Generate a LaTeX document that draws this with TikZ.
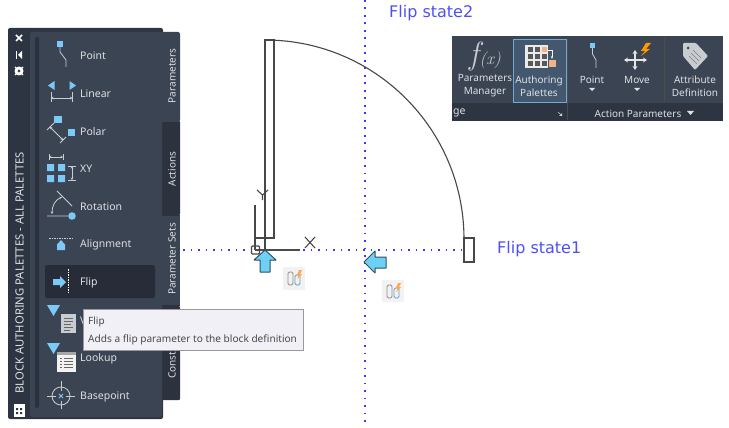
\documentclass[tikz,border=0pt]{standalone}
\usepackage{fontspec}
\setmainfont{Noto Sans}
\newfontfamily\flipfont{DejaVu Sans}
\newfontfamily\mathish{Latin Modern Roman}
\usetikzlibrary{arrows.meta}
\definecolor{panel}{HTML}{3B4453}
\definecolor{strip}{HTML}{2E3542}
\definecolor{tabdark}{HTML}{2C333F}
\definecolor{hilite}{HTML}{272C38}
\definecolor{ptext}{HTML}{DDE0E4}
\definecolor{iconblue}{HTML}{7CC8F7}
\definecolor{icongray}{HTML}{C9CCD0}
\definecolor{gripcol}{HTML}{2A303C}
\definecolor{tipfill}{HTML}{F0F0F6}
\definecolor{tiptext}{HTML}{4A4A4A}
\definecolor{flipblue}{HTML}{3A3AF2}
\definecolor{fliptext}{HTML}{4F4FF5}
\definecolor{arrowcyan}{HTML}{6FD0F6}
\definecolor{arrowedge}{HTML}{2E4F60}
\definecolor{ribbonhi}{HTML}{43586E}
\definecolor{ribbonedge}{HTML}{6FAAD2}
\definecolor{orangeic}{HTML}{F4B183}
\tikzset{
  x=1pt,y=-1pt,
  ptlabel/.style={anchor=west,inner sep=0pt,text=ptext,font=\fontsize{10.5}{12}\selectfont},
  tablabel/.style={rotate=90,inner sep=0pt,text=ptext,font=\fontsize{10}{12}\selectfont},
  riblabel/.style={inner sep=0pt,text=ptext,align=center,font=\fontsize{10}{13}\selectfont},
  blueic/.style={fill=iconblue,draw=none},
  grayic/.style={draw=icongray,line width=0.8pt},
  dimarrow/.style={grayic,{Stealth[length=2.5pt,width=2.5pt]}-{Stealth[length=2.5pt,width=2.5pt]}},
  doorline/.style={draw=black!72,line width=1.1pt},
  dotline/.style={draw=flipblue,line width=1.6pt,dash pattern=on 1.6pt off 5.9pt},
  fliparrow/.style={fill=arrowcyan,draw=arrowedge,line width=1pt,line join=round},
  fliplabel/.style={anchor=base west,inner sep=0pt,text=fliptext,font=\flipfont\fontsize{16}{18}\selectfont},
  badgebg/.style={fill=black!5,draw=none},
  badgeline/.style={draw=black!45,line width=0.8pt},
}
\begin{document}
\begin{tikzpicture}
\useasboundingbox (0,0) rectangle (729,428);
\fill[white] (0,0) rectangle (729,428);
% ---- door drawing
\draw[dotline] (183,250) -- (464,250);
\draw[dotline] (365,0) -- (365,428);
\draw[doorline] (265,40) rectangle (274,238);
\draw[doorline] (255,238) -- (274,238);
\draw[doorline] (265,238) -- (265,250);
\draw[doorline] (265,40) arc[start angle=-90,end angle=0,radius=199];
\draw[doorline] (464,238) rectangle (474,262);
% UCS icon
\draw[doorline] (255,205) -- (255,250);
\draw[draw=black!70,line width=1.2pt] (255,250) -- (300,250);
\draw[doorline,rounded corners=1pt] (251.5,246) rectangle (259.5,254);
\draw[doorline] (305,237) -- (315,248) (315,237) -- (305,248);
\draw[doorline] (257,190) -- (262.5,195) -- (268,190) (262.5,195) -- (262.5,200);
% flip grips
\draw[fliparrow] (265,250) -- (276,260) -- (270,260) -- (270,272) -- (260,272) -- (260,260) -- (254,260) -- cycle;
\draw[fliparrow] (364,262) -- (375,251) -- (375,257) -- (386,257) -- (386,268) -- (375,268) -- (375,273) -- cycle;
% badges
\fill[badgebg] (283,267) rectangle (305,290);
\draw[badgeline,rounded corners=1.5pt] (288,272) -- (293,272) -- (293,285) -- (288,285) -- cycle;
\draw[draw=iconblue!80!black,line width=0.8pt,rounded corners=1.5pt] (295,285) -- (300,285) -- (300,275) -- (295,275) -- cycle;
\fill[orange!70] (299,270) -- (297,275) -- (299,275) -- (297,279) -- (302,274) -- (300,274) -- (302,270) -- cycle;
\fill[badgebg] (382,280) rectangle (404,302);
\draw[badgeline,rounded corners=1.5pt] (387,285) -- (392,285) -- (392,298) -- (387,298) -- cycle;
\draw[draw=iconblue!80!black,line width=0.8pt,rounded corners=1.5pt] (394,298) -- (399,298) -- (399,288) -- (394,288) -- cycle;
\fill[orange!70] (398,283) -- (396,288) -- (398,288) -- (396,292) -- (401,287) -- (399,287) -- (401,283) -- cycle;
\node[fliplabel] (state2) at (389,18) {Flip state2};
\node[fliplabel] (state1) at (497,253) {Flip state1};
% ---- palette
\fill[strip,rounded corners=2pt] (8,28) rectangle (163,419);
\fill[tabdark,rounded corners=1pt] (162,121) rectangle (180,215);
\fill[tabdark] (162,215) rectangle (180,306);
\fill[tabdark,rounded corners=1pt] (162,306) rectangle (180,400);
\fill[panel,rounded corners=2pt] (30,32) rectangle (162,417);
\fill[panel,rounded corners=2pt] (150,32) rectangle (180,122);
\fill[panel] (162,215.5) rectangle (180,305);
\fill[gripcol,rounded corners=2pt] (35,37) rectangle (39,408);
\fill[hilite,rounded corners=2pt] (45,265) rectangle (155,298);
% strip icons
\draw[white,line width=1.6pt] (16,35) -- (22,41) (22,35) -- (16,41);
\draw[white,line width=0.9pt] (16,51) -- (16,59);
\fill[white] (22,51) -- (18,55) -- (22,59) -- cycle;
\fill[white] (19,71) circle[radius=4.5];
\fill[strip] (19,71) circle[radius=1.6];
\draw[white,line width=1.2pt] (15,67) -- (23,75) (23,67) -- (15,75);
\fill[strip] (19,71) circle[radius=1.3];
\fill[white] (14,404) -- (25,404) -- (25,417) -- (14,417) -- cycle;
\fill[strip] (16,408) rectangle (18,410) (20,408) rectangle (22,410) (16,412) rectangle (18,414) (20,412) rectangle (22,414);
\node[rotate=90,anchor=west,inner sep=0pt,text=ptext,font=\fontsize{11.3}{12}\selectfont] (title) at (19.5,394) {BLOCK AUTHORING PALETTES - ALL PALETTES};
% tabs
\node[tablabel] (tabparam) at (172,76) {Parameters};
\node[tablabel] (tabact) at (172,169) {Actions};
\node[tablabel] (tabset) at (172,259) {Parameter Sets};
\node[tablabel,anchor=west] (tabcon) at (172,379) {Const};
% palette labels
\node[ptlabel] (point) at (80,56) {Point};
\node[ptlabel] (linear) at (80,94) {Linear};
\node[ptlabel] (polar) at (80,132) {Polar};
\node[ptlabel] (xy) at (80,169) {XY};
\node[ptlabel] (rotation) at (80,207) {Rotation};
\node[ptlabel] (alignment) at (80,245) {Alignment};
\node[ptlabel] (flip) at (80,283) {Flip};
\node[ptlabel] (vis) at (80,321) {V};
\node[ptlabel] (lookup) at (80,359) {Lookup};
\node[ptlabel] (basepoint) at (80,397) {Basepoint};
% point icon
\fill[blueic] (57,41) rectangle (63,47);
\draw[grayic] (60,47) -- (60,52) -- (66,60) -- (66,67);
% linear icon
\fill[blueic] (48,85.5) -- (54.5,81) -- (54.5,90) -- cycle;
\fill[blueic] (76,85.5) -- (69.5,81) -- (69.5,90) -- cycle;
\draw[grayic] (51,92) -- (51,102) (72.5,92) -- (72.5,102);
\draw[dimarrow] (51,98) -- (72.5,98);
% polar icon
\fill[blueic] (54,116) rectangle (62,123);
\fill[blueic] (68,129) rectangle (75,136);
\draw[grayic] (47,130) -- (54,123) (60,143) -- (66,137);
\draw[dimarrow] (50,127) -- (63,140);
% xy icon
\draw[dimarrow] (49,157) -- (63,157);
\draw[grayic] (49,154) -- (49,160) (63,154) -- (63,160);
\fill[blueic] (47,164) rectangle (54,171) (58,164) rectangle (65,171) (47,175) rectangle (54,182) (58,175) rectangle (65,182);
\draw[dimarrow] (72,166) -- (72,180);
\draw[grayic] (68,166) -- (76,166) (68,180) -- (76,180);
% rotation icon
\draw[grayic] (47,216) -- (68,216) (57,191) -- (72,206);
\draw[dimarrow] (52,214) .. controls (52,206) and (55,200) .. (62,197);
\fill[blueic] (72,216) circle[radius=3.8];
% alignment icon
\draw[grayic,dash pattern=on 1.5pt off 1pt] (49,238) -- (74,238);
\fill[blueic] (61,240) -- (65,244.5) -- (65,250) -- (57,250) -- (57,244.5) -- cycle;
% flip icon
\fill[blueic] (66,282) -- (60,276) -- (60,279) -- (53,279) -- (53,285) -- (60,285) -- (60,288) -- cycle;
\draw[white,line width=0.7pt,dash pattern=on 1.5pt off 1pt] (68.5,269) -- (68.5,293);
% visibility icon
\fill[icongray] (61,314) rectangle (76,333);
\draw[black!60,line width=0.7pt] (64,318) -- (73,318) (64,321) -- (73,321) (64,324) -- (71,324) (64,327) -- (73,327) (64,330) -- (70,330);
\fill[blueic] (47,305) -- (60,305) -- (53.5,316) -- cycle;
% lookup icon
\fill[white!95!black] (57,352) rectangle (76,372);
\fill[black!35] (57,352) rectangle (76,355);
\draw[black!60,line width=0.7pt] (60,358) -- (62,358) (64,358) -- (73,358) (60,361) -- (62,361) (64,361) -- (73,361) (60,364) -- (62,364) (64,364) -- (73,364) (60,367) -- (62,367) (64,367) -- (73,367);
\fill[blueic] (47,343) -- (60,343) -- (53.5,354) -- cycle;
% basepoint icon
\draw[grayic] (61,396) circle[radius=9];
\draw[grayic] (61,381) -- (61,391) (61,401) -- (61,409) (47,396) -- (56,396) (66,396) -- (75,396);
\draw[iconblue,line width=1pt] (59,394) -- (63,398) (63,394) -- (59,398);
% tooltip
\draw[fill=tipfill,draw=black!40,line width=0.8pt] (83,309) rectangle (303,350);
\node[anchor=west,inner sep=0pt,text=tiptext,font=\bfseries\fontsize{10}{12}\selectfont] (tiphead) at (88,322) {Flip};
\node[anchor=west,inner sep=0pt,text=tiptext,font=\fontsize{10.1}{12}\selectfont] (tipbody) at (88,340) {Adds a flip parameter to the block definition};
% ---- ribbon
\fill[panel] (452,36) rectangle (723,121);
\fill[strip] (452,103) rectangle (723,121);
\draw[draw=ribbonedge,fill=ribbonhi,line width=0.8pt] (513,39) rectangle (566,102);
\draw[black!70,line width=1pt] (567,38) -- (567,120);
\draw[black!70,line width=0.8pt] (664,38) -- (664,102);
\node[inner sep=0pt,text=icongray,font=\mathish\itshape] (fx) at (485,57) {\fontsize{32}{32}\selectfont f\kern1pt\fontsize{17}{17}\selectfont(x)};
\node[riblabel] (pm) at (485,86) {Parameters\\Manager};
\node[riblabel] (ap) at (539,86) {Authoring\\Palettes};
\node[riblabel] (pt2) at (592,80) {Point};
\node[riblabel] (mv) at (637,80) {Move};
\node[riblabel] (ad) at (695,86) {Attribute\\Definition};
\node[anchor=west,inner sep=0pt,text=ptext,font=\fontsize{10.5}{12}\selectfont] (ge) at (453,113) {ge};
\node[riblabel] (actpar) at (638,114) {Action Parameters};
\fill[ptext] (687,111) -- (694,111) -- (690.5,115) -- cycle;
\fill[ptext] (589,88) -- (595,88) -- (592,91) -- cycle;
\fill[ptext] (634,88) -- (640,88) -- (637,91) -- cycle;
\draw[icongray,line width=0.7pt] (558,112) -- (562,116);
\fill[icongray] (562,116) -- (562,113) -- (559,116) -- cycle;
% authoring palettes icon
\fill[white!92!black] (525,45) rectangle (548,68);
\foreach \xx/\yy in {528/47,535/47,528/54,535/54,528/61,535/61,542/54,542/61}
  \fill[black!65] (\xx,\yy) rectangle ++(5,5);
\fill[orangeic] (542,47) rectangle ++(5,5);
\fill[orangeic] (549,60) rectangle ++(7,7);
\draw[white,line width=0.7pt,-{Stealth[length=3pt]}] (548,50) -- (552,50) -- (552,59);
% point ribbon icon
\fill[blueic] (590,43) rectangle (595,48);
\draw[grayic] (592.5,48) -- (592.5,54) -- (596,60) -- (596,68);
% move icon
\draw[white!90!black,line width=1.3pt,{Stealth[length=4pt,width=5pt]}-{Stealth[length=4pt,width=5pt]}] (635,50) -- (635,70);
\draw[white!90!black,line width=1.3pt,{Stealth[length=4pt,width=5pt]}-{Stealth[length=4pt,width=5pt]}] (624,60) -- (647,60);
\fill[orange!80!yellow] (646,43) -- (641,51) -- (645,51) -- (641,56) -- (650,49) -- (646,49) -- (651,43) -- cycle;
% attribute tag icon
\fill[icongray,rounded corners=1pt] (683,43) -- (696,43) -- (708,56) -- (695,70) -- (683,56) -- cycle;
\fill[panel] (688,48) circle[radius=1.5];
\draw[black!50,line width=0.6pt] (691,53) -- (699,61) (689,56) -- (697,64) (693,50) -- (701,58);
\end{tikzpicture}
\end{document}
